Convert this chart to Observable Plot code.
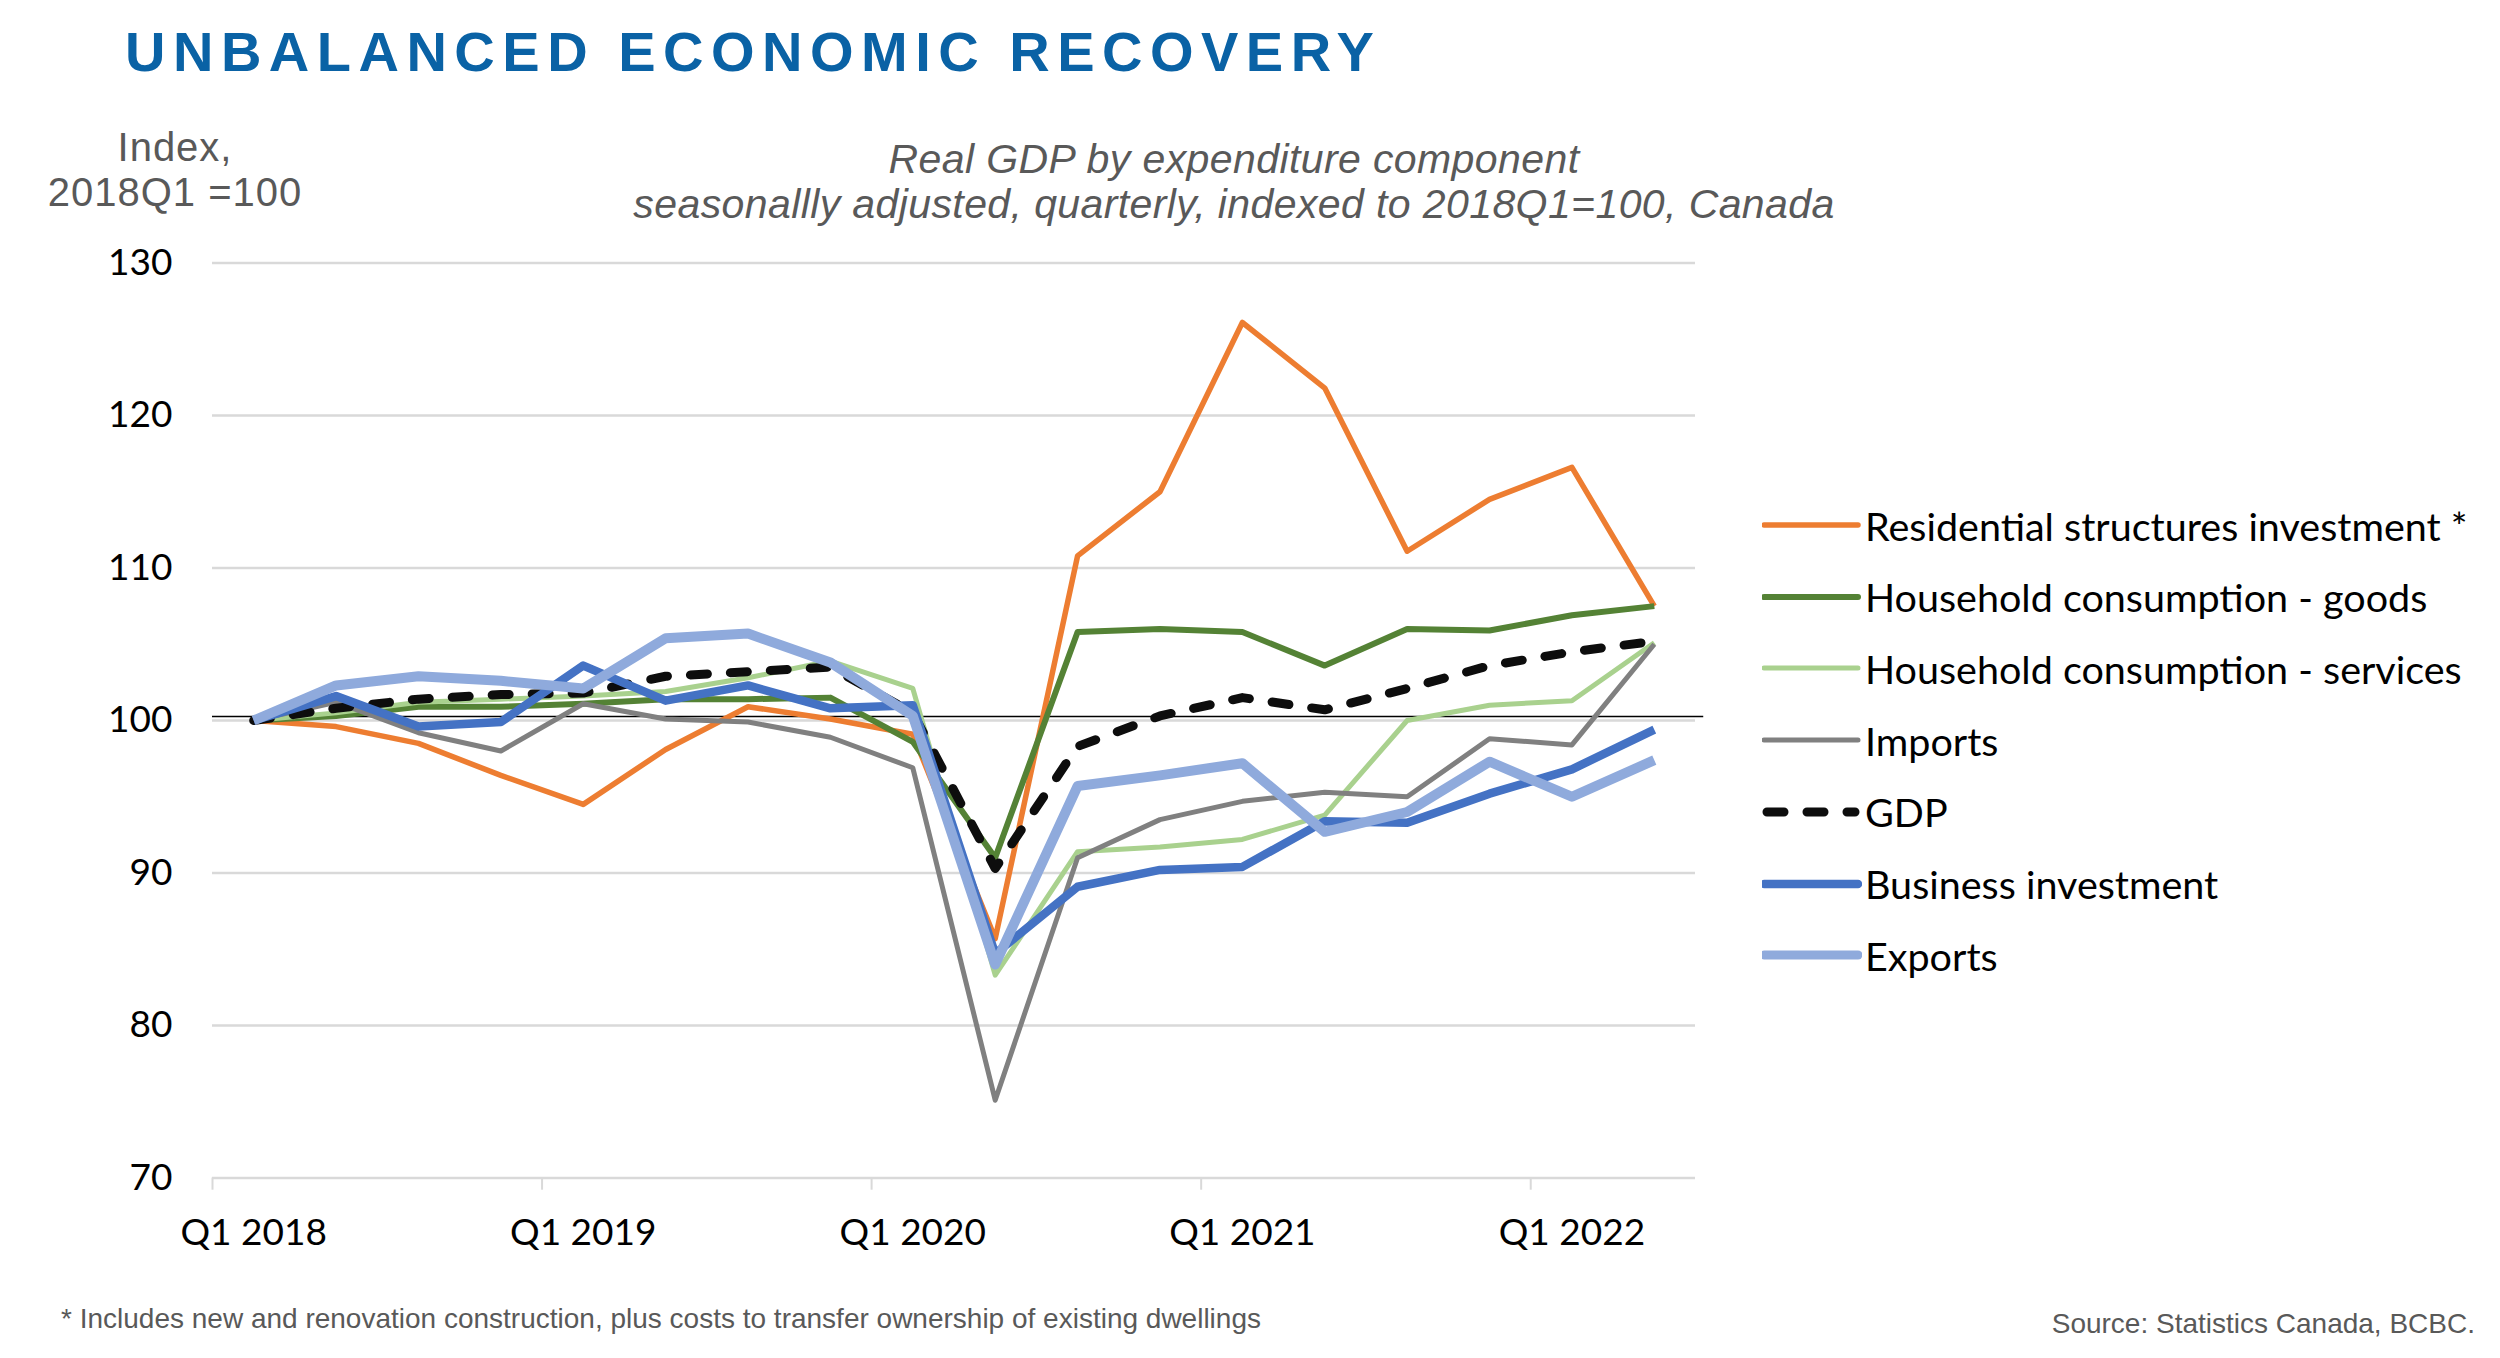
<!DOCTYPE html>
<html>
<head>
<meta charset="utf-8">
<script src="https://cdn.jsdelivr.net/npm/d3@7"></script>
<script src="https://cdn.jsdelivr.net/npm/@observablehq/plot@0.6"></script>
<style>
  html, body { margin: 0; padding: 0; background: #fff; }
  #wrap { position: relative; width: 2500px; height: 1358px; overflow: hidden; font-family: "Liberation Sans", Arial, sans-serif; }
  #chart { position: absolute; left: 0; top: 0; }
  .abs { position: absolute; white-space: nowrap; line-height: 1; }
  #title { left: 125px; top: 24px; font-size: 56px; font-weight: bold; color: #0A62A5; letter-spacing: 7.5px; }
  .ylab { color: #595959; font-size: 40px; width: 350px; text-align: center; left: 0px; letter-spacing: 1px; }
  .sub { color: #595959; font-size: 41px; font-style: italic; width: 1600px; text-align: center; left: 434px; letter-spacing: 0.4px; }
  #legend { position: absolute; left: 1762px; top: 0; font-family: Lato, "Open Sans", sans-serif; font-size: 39.5px; color: #000; }
  .lrow { position: absolute; left: 0; display: flex; align-items: center; height: 60px; white-space: nowrap; }
  .lrow svg { width: 100px; height: 20px; margin-right: 3px; }
  .foot { color: #595959; font-size: 28px; }
</style>
</head>
<body>
<div id="wrap">
  <div id="chart"></div>
  <div class="abs" id="title">UNBALANCED ECONOMIC RECOVERY</div>
  <div class="abs ylab" style="top:127px">Index,</div>
  <div class="abs ylab" style="top:172px">2018Q1 =100</div>
  <div class="abs sub" style="top:139px">Real GDP by expenditure component</div>
  <div class="abs sub" style="top:184px">seasonallly adjusted, quarterly, indexed to 2018Q1=100, Canada</div>
  <div id="legend"></div>
  <div class="abs foot" style="left:61px; top:1305px">* Includes new and renovation construction, plus costs to transfer ownership of existing dwellings</div>
  <div class="abs foot" style="right:25px; top:1310px">Source: Statistics Canada, BCBC.</div>
</div>
<script>
const quarters = ["Q1 2018","Q2 2018","Q3 2018","Q4 2018","Q1 2019","Q2 2019","Q3 2019","Q4 2019",
  "Q1 2020","Q2 2020","Q3 2020","Q4 2020","Q1 2021","Q2 2021","Q3 2021","Q4 2021","Q1 2022","Q2 2022"];
const xTickIdx = [0, 4, 8, 12, 16];
const yTicks = [70, 80, 90, 100, 110, 120, 130];

const residential = [100, 99.6, 98.5, 96.4, 94.5, 98.1, 100.9, 100.1, 99.1, 85.7, 110.8, 115.0, 126.1, 121.8, 111.1, 114.5, 116.6, 107.5];
const goods       = [100, 100.3, 100.9, 100.9, 101.1, 101.4, 101.4, 101.5, 98.6, 91.0, 105.8, 106.0, 105.8, 103.6, 106.0, 105.9, 106.9, 107.5];
const services    = [100, 100.5, 101.2, 101.4, 101.6, 101.9, 102.8, 103.9, 102.1, 83.3, 91.4, 91.7, 92.2, 93.8, 100.0, 101.0, 101.3, 105.1];
const imports     = [100, 101.2, 99.2, 98.0, 101.1, 100.1, 99.9, 98.9, 96.9, 75.1, 91.0, 93.5, 94.7, 95.3, 95.0, 98.8, 98.4, 105.0];
const gdp         = [100, 100.8, 101.4, 101.7, 101.8, 102.9, 103.2, 103.5, 100.5, 90.3, 98.3, 100.3, 101.5, 100.7, 102.1, 103.6, 104.5, 105.2];
const business    = [100, 101.6, 99.6, 99.9, 103.6, 101.3, 102.3, 100.8, 101.0, 84.7, 89.1, 90.2, 90.4, 93.4, 93.3, 95.2, 96.8, 99.4];
const exportsS    = [100, 102.3, 102.9, 102.6, 102.1, 105.4, 105.7, 103.8, 100.3, 84.0, 95.7, 96.4, 97.2, 92.7, 94.0, 97.3, 95.0, 97.4];

const seriesNames = ["Residential structures investment *", "Household consumption - goods",
  "Household consumption - services", "Imports", "GDP", "Business investment", "Exports"];
const seriesValues = [residential, goods, services, imports, gdp, business, exportsS];
const seriesColors = ["#ED7D31", "#548235", "#A9D18E", "#808080", "#0D0D0D", "#4472C4", "#8FAADC"];
const seriesWidths = [5.5, 6, 5, 5, 9, 8.5, 10];
const seriesDash = [null, null, null, null, "17 23", null, null];

const marks = [
  Plot.ruleY(yTicks, {stroke: "#d9d9d9", strokeWidth: 2.5}),
  Plot.ruleX([-0.5, 3.5, 7.5, 11.5, 15.5], {y1: 70, y2: 69.2, stroke: "#d9d9d9", strokeWidth: 2}),
  Plot.ruleY([100], {x1: -0.5, x2: 17.6, stroke: "#000", strokeWidth: 1.5, dy: -4}),
  Plot.axisY({ticks: yTicks, tickSize: 0, tickPadding: 40, fill: "#000", fontSize: 37, label: null}),
  Plot.axisX({ticks: xTickIdx, tickFormat: i => quarters[i], tickSize: 0, tickPadding: 41, fill: "#000", fontSize: 37, label: null})
];
seriesValues.forEach((vals, k) => {
  const data = vals.map((v, i) => ({i, v}));
  marks.push(Plot.line(data, {
    x: "i", y: "v", stroke: seriesColors[k], strokeWidth: seriesWidths[k],
    strokeDasharray: seriesDash[k] || undefined,
    strokeLinecap: seriesDash[k] ? "round" : "butt",
    strokeLinejoin: "round", curve: "linear"
  }));
});

const chart = Plot.plot({
  width: 2500, height: 1358,
  marginLeft: 212, marginRight: 805, marginTop: 262.5, marginBottom: 180.5,
  x: {domain: [-0.5, 17.5], axis: null},
  y: {domain: [70, 130], axis: null},
  style: {fontFamily: "Lato, 'Open Sans', sans-serif", fontSize: "37px", background: "transparent", color: "#000"},
  marks
});
document.getElementById("chart").appendChild(chart);

const legend = document.getElementById("legend");
seriesNames.forEach((name, k) => {
  const row = document.createElement("div");
  row.className = "lrow";
  row.style.top = (528 + k * 71.7 - 33) + "px";
  const dash = seriesDash[k];
  row.innerHTML = `<svg viewBox="0 0 100 20"><line x1="${dash ? 5 : 2}" y1="10" x2="${dash ? 93 : 96}" y2="10" stroke="${seriesColors[k]}" stroke-width="${Math.min(seriesWidths[k], 9)}" stroke-linecap="round" ${dash ? 'stroke-dasharray="17 23"' : ''}/></svg><span>${name}</span>`;
  legend.appendChild(row);
});
</script>
</body>
</html>
